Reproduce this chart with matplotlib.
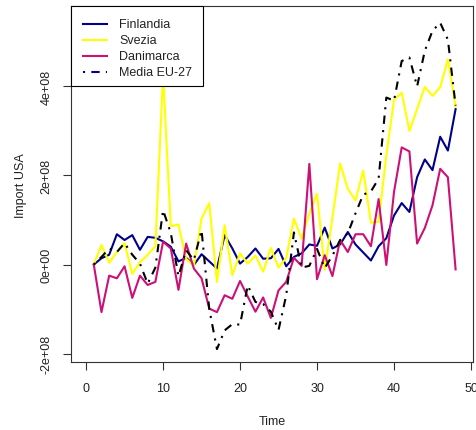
import matplotlib
matplotlib.use("Agg")
import matplotlib.pyplot as plt
from matplotlib.lines import Line2D
from matplotlib.patches import Rectangle
import numpy as np

plt.rcParams['font.family'] = ['Liberation Sans', 'DejaVu Sans']

time = list(range(1, 49))

# values in units of 1e8
finlandia = [0.00, 0.14, 0.22, 0.68, 0.55, 0.66, 0.33, 0.62, 0.60, 0.52,
             0.40, 0.07, 0.15, -0.01, 0.23, 0.07, -0.09, 0.66, 0.36, 0.02,
             0.17, 0.36, 0.13, 0.14, 0.35, -0.04, 0.17, 0.25, 0.45, 0.42,
             0.83, 0.36, 0.45, 0.73, 0.45, 0.27, 0.09, 0.41, 0.59, 1.10,
             1.38, 1.18, 1.96, 2.36, 2.12, 2.87, 2.56, 3.49]
svezia = [0.00, 0.44, 0.04, 0.28, 0.48, -0.21, 0.05, 0.22, 0.41, 4.28,
          0.86, 0.90, 0.13, -0.03, 1.03, 1.38, -0.39, 0.88, -0.24, 0.25,
          0.02, 0.20, -0.16, 0.37, -0.07, 0.15, 1.03, 0.58, 1.14, 1.59,
          -0.12, 1.05, 2.27, 1.70, 1.44, 2.11, 0.94, 0.96, 2.45, 3.70,
          3.86, 3.00, 3.49, 3.99, 3.79, 3.98, 4.61, 3.55]
danimarca = [0.00, -1.07, -0.25, -0.31, -0.04, -0.75, -0.25, -0.46, -0.39, 0.51,
             0.36, -0.57, 0.47, -0.09, -0.31, -0.99, -1.07, -0.69, -0.77, -0.37,
             -0.72, -1.06, -0.74, -1.20, -0.58, -0.39, 0.15, -0.03, 2.26, -0.33,
             0.21, -0.26, 0.55, 0.28, 0.68, 0.68, 0.41, 1.47, -0.01, 1.63,
             2.63, 2.54, 0.47, 0.82, 1.33, 2.15, 1.96, -0.11]
media_eu27 = [0.00, 0.17, 0.36, 0.28, 0.48, 0.22, 0.02, -0.43, -0.07, 1.22,
              0.71, -0.26, 0.32, 0.10, 0.77, -1.00, -1.90, -1.48, -1.34, -1.35,
              -0.47, -0.84, -0.89, -1.06, -1.47, -0.69, 0.72, -0.07, -0.03, 0.35,
              -0.08, 0.20, 0.55, 0.70, 1.15, 1.57, 1.64, 1.93, 3.75, 3.68,
              4.57, 4.65, 4.00, 4.80, 5.25, 5.43, 5.05, 3.57]

series_names = ["Finlandia", "Svezia", "Danimarca", "Media EU-27"]
x_ticks = [0, 10, 20, 30, 40, 50]
y_ticks = [-2e8, 0, 2e8, 4e8]
y_tick_labels = ["-2e+08", "0e+00", "2e+08", "4e+08"]

scale = 1e8
W, H = 476, 431

fig = plt.figure(figsize=(W / 100, H / 100), dpi=100)
ax = fig.add_axes([71.3 / W, 1 - 363 / H, (473.3 - 71.3) / W, (363 - 7.3) / H])

c_fin = "#00008B"
c_sve = "#FFFF00"
c_dan = "#CD1076"
lw = 1.5
dd = (1, 3, 4, 3)

ax.plot(time, np.array(finlandia) * scale, color=c_fin, lw=lw)
ax.plot(time, np.array(svezia) * scale, color=c_sve, lw=lw)
ax.plot(time, np.array(danimarca) * scale, color=c_dan, lw=lw)
ax.plot(time, np.array(media_eu27) * scale, color="black", lw=lw, dashes=dd)

ax.set_xlim(-1.92, 50.3)
ax.set_ylim(-2.19e8, 5.80e8)

ax.set_xticks(x_ticks)
ax.set_xticklabels([str(v) for v in x_ticks])
ax.set_yticks(y_ticks)
ax.set_yticklabels(y_tick_labels, rotation=90, va="center")

for sp in ax.spines.values():
    sp.set_color("#333333")
    sp.set_linewidth(0.8)
ax.tick_params(axis="both", direction="out", length=5.5, width=0.8,
               color="#333333", labelsize=9, labelcolor="#222222")
ax.tick_params(axis="x", pad=9)
ax.tick_params(axis="y", pad=8)

ax.set_xlabel("Time", fontsize=9, color="#222222", labelpad=15)
ax.set_ylabel("Import USA", fontsize=9, color="#222222", labelpad=10)

def fx(px):
    return px / W

def fy(py):
    return 1 - py / H

fig.patches.append(Rectangle((fx(71.3), fy(87.3)), fx(203) - fx(71.3),
                             fy(7.3) - fy(87.3), transform=fig.transFigure,
                             facecolor="white", edgecolor="black", lw=0.8,
                             zorder=5))
leg_colors = [c_fin, c_sve, c_dan, c_fin]
leg_dashes = [None, None, None, dd]
row_y = [25, 41, 57, 73]
for name, col, ds, ry in zip(series_names, leg_colors, leg_dashes, row_y):
    ln = Line2D([fx(83), fx(107)], [fy(ry), fy(ry)], transform=fig.transFigure,
                color=col, lw=lw, zorder=6)
    if ds is not None:
        ln.set_dashes(ds)
    fig.lines.append(ln)
    fig.text(fx(119), fy(ry), name, fontsize=9, color="#222222",
             va="center", ha="left", zorder=6)

fig.savefig("out.png", dpi=100)
